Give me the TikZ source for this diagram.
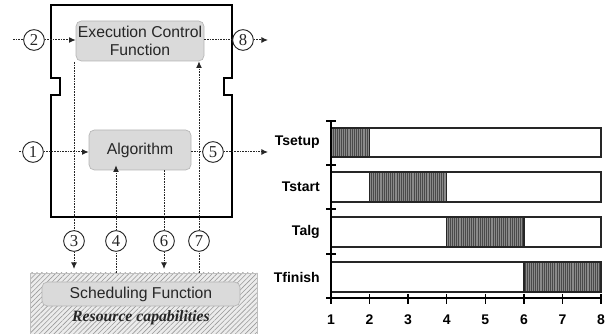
\documentclass[tikz,border=0pt]{standalone}
\usepackage{fontspec}
\setmainfont{Liberation Sans}
\newfontfamily\serifnum{Liberation Serif}
\usetikzlibrary{arrows.meta,patterns.meta,calc}
\definecolor{boxfill}{HTML}{DADADA}
\definecolor{boxline}{HTML}{B5B5B5}
\definecolor{txt}{HTML}{262626}
\definecolor{hatchbg}{HTML}{ECECEC}
\definecolor{hatchln}{HTML}{9A9A9A}
\definecolor{segfill}{HTML}{8A8A8A}
\definecolor{segln}{HTML}{4A4A4A}
\tikzset{
  fnbox/.style={draw=boxline, fill=boxfill, rounded corners=4pt, text=txt,
    font=\fontsize{11.8}{13.2}\selectfont, align=center, inner sep=0pt, line width=0.5pt},
  numc/.style={circle, draw=black!85, line width=0.7pt, minimum size=15.5pt, inner sep=0pt,
    font=\serifnum\fontsize{12.5}{12.5}\selectfont, text=txt},
  conn/.style={draw=black!85, line width=0.75pt, dash pattern=on 1.2pt off 0.8pt},
  arr/.style={conn, -{Latex[length=5pt,width=4.5pt]}},
  rowlab/.style={font=\bfseries\fontsize{10.5}{12}\selectfont, anchor=east, inner sep=0pt},
  ticklab/.style={font=\bfseries\fontsize{10.5}{12}\selectfont, inner sep=0pt},
  barbox/.style={draw=black!85, line width=0.9pt, fill=white},
  seghatch/.style={pattern={Lines[angle=90,distance=1.6pt,line width=0.45pt]}, pattern color=segln}
}
\begin{document}
\begin{tikzpicture}[x=0.75pt,y=-0.75pt]
\useasboundingbox (0,0) rectangle (611,334);
% outer frame
\draw[line width=1.9pt, line join=miter] (51,5) -- (232,5) -- (232,78) -- (224,78) -- (224,95) -- (232,95)
  -- (232,217) -- (51,217) -- (51,95) -- (60,95) -- (60,78) -- (51,78) -- cycle;
% hatched resource area
\fill[hatchbg] (30,273) rectangle (257,336);
\fill[pattern={Lines[angle=45,distance=2.6pt,line width=0.45pt]}, pattern color=hatchln] (30,273) rectangle (257,336);
\draw[black!25, line width=0.5pt] (30,336) -- (30,273) -- (257,273) -- (257,336);
% function boxes
\node[fnbox, minimum width=96pt, minimum height=30pt] (ecf) at (140,41) {Execution Control\\Function};
\node[fnbox, minimum width=76.5pt, minimum height=30pt] (alg) at (140,150) {Algorithm};
\node[fnbox, minimum width=148.5pt, minimum height=18pt] (sch) at (141,294) {Scheduling Function};
\node[font=\serifnum\bfseries\itshape\fontsize{11.8}{13}\selectfont, text=txt, inner sep=0pt] (res) at (141,318) {Resource capabilities};
% numbered circles
\node[numc] (c2) at (34,40) {2};
\node[numc] (c8) at (243,40) {8};
\node[numc] (c1) at (33,152) {1};
\node[numc] (c5) at (213,152) {5};
\node[numc] (c3) at (74,241) {3};
\node[numc] (c4) at (116,241) {4};
\node[numc] (c6) at (164,241) {6};
\node[numc] (c7) at (199,241) {7};
% free ends
\coordinate (s2) at (13,40);
\coordinate (e8) at (268,40);
\coordinate (s1) at (19,152);
\coordinate (e5) at (268,152);
\coordinate (t3) at (74,62);
\coordinate (e3) at (74,269);
\coordinate (s4) at (116,273);
\coordinate (e6) at (164,269);
\coordinate (s7) at (199,273);
% connectors
\draw[conn] (s2) -- (c2);
\draw[arr] (c2) -- (c2 -| ecf.west);
\draw[conn] (ecf.east |- c8) -- (c8);
\draw[arr] (c8) -- (e8);
\draw[conn] (s1) -- (c1);
\draw[arr] (c1) -- (c1 -| alg.west);
\draw[conn] (alg.east |- c5) -- (c5);
\draw[arr] (c5) -- (e5);
\draw[conn] (t3) -- (c3);
\draw[arr] (c3) -- (e3);
\draw[conn] (s4) -- (c4);
\draw[arr] (c4) -- ($(c4 |- alg.south)+(0,-5)$);
\draw[conn] (c6 |- alg.south) -- (c6);
\draw[arr] (c6) -- (e6);
\draw[conn] (s7) -- (c7);
\draw[arr] (c7) -- (c7 |- ecf.south);
% chart bars
\draw[barbox] (331,128) rectangle (601,157);
\draw[barbox] (331,172) rectangle (601,202);
\draw[barbox] (331,217) rectangle (601,247);
\draw[barbox] (331,262) rectangle (601,292);
\foreach \a/\b/\t/\u in {331/369.6/128/157, 369.6/446.7/172/202, 446.7/523.9/217/247, 523.9/601/262/292}{
  \fill[segfill] (\a,\t) rectangle (\b,\u);
  \fill[seghatch] (\a,\t) rectangle (\b,\u);
  \draw[black!85, line width=0.9pt] (\a,\t) rectangle (\b,\u);
}
% axes
\draw[line width=1pt] (331,121) -- (331,298);
\draw[line width=1pt] (326,298) -- (601,298);
\foreach \y in {121,165,209,254}{ \draw[line width=1pt] (326,\y) -- (336,\y); }
\foreach \x in {331,369.6,408.1,446.7,485.3,523.9,562.4,601}{ \draw[line width=1pt] (\x,294) -- (\x,304); }
% row labels
\node[rowlab] (lsetup) at (320,142) {Tsetup};
\node[rowlab] (lstart) at (320,187) {Tstart};
\node[rowlab] (lalg) at (320,232) {Talg};
\node[rowlab] (lfin) at (320,277) {Tfinish};
% tick labels
\foreach \x/\n in {331/1,369.6/2,408.1/3,446.7/4,485.3/5,523.9/6,562.4/7,601/8}{
  \node[ticklab] (tk\n) at (\x,320) {\n};
}
\end{tikzpicture}
\end{document}
